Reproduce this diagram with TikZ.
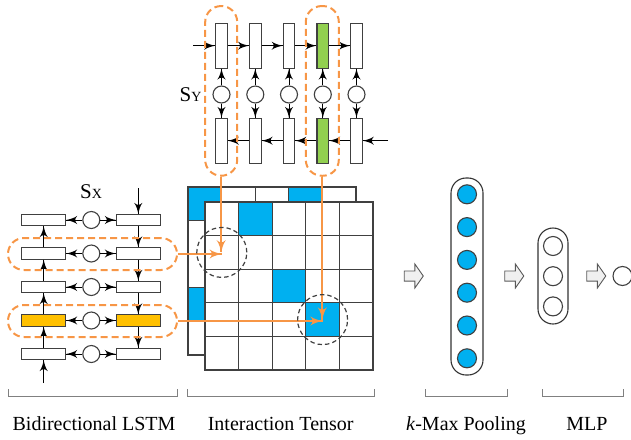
\documentclass[tikz,border=0pt]{standalone}
\usepackage{fontspec}
\setmainfont{Liberation Serif}
\usetikzlibrary{arrows}
\usetikzlibrary{decorations.markings}
\usetikzlibrary{shapes.arrows}
\definecolor{cellblue}{HTML}{00B0F0}
\definecolor{gategreen}{HTML}{92D050}
\definecolor{gateyellow}{HTML}{FFC000}
\definecolor{hlorange}{HTML}{F79646}
\definecolor{linegray}{HTML}{404040}
\tikzset{->/.style = {decoration={markings,
                                  mark=at position 1 with {\arrow[scale=1.9]{latex'}}},
                      postaction={decorate}}}
\tikzset{hlarrow/.style = {draw=hlorange, line width=1.8pt,
                           decoration={markings,
                                       mark=at position 1 with {\arrow[scale=1.5]{latex'}}},
                           postaction={decorate}}}
\tikzset{vbox/.style = {draw=linegray, line width=1.1pt, minimum width=11.6, minimum height=44.7, inner sep=0}}
\tikzset{hbox/.style = {draw=linegray, line width=1.1pt, minimum width=44, minimum height=11.3, inner sep=0}}
\tikzset{gate/.style = {draw=linegray, fill=white, line width=1.1pt, circle, minimum size=17, inner sep=0}}
\tikzset{cell/.style = {draw=linegray, fill=white, line width=1.1pt, minimum size=33.6, inner sep=0}}
\tikzset{focus/.style = {draw=linegray, line width=1.2pt, dash pattern=on 4.5pt off 3pt, circle, minimum size=50, inner sep=0}}
\tikzset{hl/.style = {draw=hlorange, line width=2pt, dash pattern=on 7pt off 4pt, rounded corners=15.9, inner sep=0}}
\tikzset{unit/.style = {draw=linegray, fill=white, line width=1.1pt, circle, minimum size=19, inner sep=0}}
\tikzset{pool/.style = {draw=black!80, line width=1.1pt, rounded corners=15, inner sep=0}}
\tikzset{flowarrow/.style = {single arrow, draw=black!65, fill=gray!12, line width=0.9pt, minimum height=19, minimum width=23,
                             single arrow head extend=6.9, single arrow tip angle=110, inner sep=4.6}}
\tikzset{caption/.style = {anchor=base, inner sep=0, font=\fontsize{20}{24}\selectfont}}

\begin{document}
\begin{tikzpicture}[x=1pt, y=-1pt, line width=1pt]
  \useasboundingbox (0,0) rectangle (631,439);

  % question side S_Y
  \foreach \i/\x/\c in {1/221.5/white, 2/255.3/white, 3/289/white, 4/322.8/gategreen, 5/356.5/white} {
    \node [vbox, fill=\c] (yt\i) at (\x, 45.7) {};
    \node [vbox, fill=\c] (yb\i) at (\x, 140.7) {};
    \node [gate] (yc\i) at (\x, 94.5) {};
    \draw [->] (yc\i) -- (yt\i);
    \draw [->] (yc\i) -- (yb\i);
  }
  \foreach \i/\j in {1/2, 2/3, 3/4, 4/5} {
    \draw [->] (yt\i) -- (yt\j);
    \draw [->] (yb\j) -- (yb\i);
  }
  \coordinate (yin) at (193, 45.7);
  \coordinate (yout) at (388, 140.7);
  \draw [->] (yin) -- (yt1);
  \draw [->] (yout) -- (yb5);
  \node (sy) at (190.5, 94.5) {\fontsize{21}{24}\selectfont S\fontsize{14}{16}\selectfont Y};

  % answer side S_X
  \foreach \i/\y/\c in {1/220/white, 2/253.5/white, 3/287/white, 4/320.5/gateyellow, 5/354/white} {
    \node [hbox, fill=\c] (xl\i) at (43.7, \y) {};
    \node [hbox, fill=\c] (xr\i) at (138.3, \y) {};
    \node [gate] (xc\i) at (91.3, \y) {};
    \draw [->] (xc\i) -- (xl\i);
    \draw [->] (xc\i) -- (xr\i);
  }
  \foreach \i/\j in {1/2, 2/3, 3/4, 4/5} {
    \draw [->] (xl\j) -- (xl\i);
    \draw [->] (xr\i) -- (xr\j);
  }
  \coordinate (xin) at (43.7, 383);
  \coordinate (xtop) at (138.3, 188);
  \draw [->] (xin) -- (xl5);
  \draw [->] (xtop) -- (xr1);
  \node (sx) at (91, 192) {\fontsize{21}{24}\selectfont S\fontsize{14}{16}\selectfont X};

  % interaction tensor
  \foreach \r in {0,...,4}
    \foreach \c in {0,...,4}
      \node [cell] (b\r\c) at (204.8+33.6*\c, 203.8+33.6*\r) {};
  \node [cell, fill=cellblue] at (b00) {};
  \node [cell, fill=cellblue] at (b03) {};
  \node [cell, fill=cellblue] at (b30) {};
  \foreach \r in {0,...,4}
    \foreach \c in {0,...,4}
      \node [cell] (f\r\c) at (221.8+33.6*\c, 218.8+33.6*\r) {};
  \node [cell, fill=cellblue] at (f01) {};
  \node [cell, fill=cellblue] at (f22) {};
  \node [cell, fill=cellblue] at (f33) {};

  % highlighted pairs
  \node [hl, minimum width=32, minimum height=169.7] (hy1) at (221.2, 90.9) {};
  \node [hl, minimum width=33, minimum height=169.7] (hy4) at (322.3, 90.9) {};
  \node [hl, minimum width=169, minimum height=32] (hx2) at (92.5, 254) {};
  \node [hl, minimum width=169, minimum height=32] (hx4) at (92.5, 321) {};
  \draw [hlarrow] (hy1.south) -- (hy1.south |- f10);
  \draw [hlarrow] (hy4.south) -- (hy4.south |- f33);
  \draw [hlarrow] (hx2.east) -- (hx2.east -| f10);
  \draw [hlarrow] (hx4.east) -- (hx4.east -| f33);
  \node [focus] (z1) at (f10) {};
  \node [focus] (z2) at (f33) {};

  % k-max pooling and MLP
  \node [flowarrow] (fa1) at (412, 276) {};
  \node [pool, minimum width=32, minimum height=197] (kmax) at (467, 276.5) {};
  \foreach \i in {0,...,5}
    \node [unit, fill=cellblue] (k\i) at (467, 194.3+32.8*\i) {};
  \node [flowarrow] (fa2) at (512.5, 276) {};
  \node [pool, minimum width=30, minimum height=96] (mlp) at (553, 276) {};
  \foreach \i in {0,...,2}
    \node [unit] (m\i) at (553, 246+30.2*\i) {};
  \node [flowarrow] (fa3) at (594.5, 276) {};
  \node [unit] (out) at (622.5, 276) {};

  % brackets and captions
  \draw [gray, line width=0.9pt] (8,389) -- (8,396) -- (177,396) -- (177,389);
  \draw [gray, line width=0.9pt] (187,389) -- (187,396) -- (374,396) -- (374,389);
  \draw [gray, line width=0.9pt] (425,389) -- (425,396) -- (507,396) -- (507,389);
  \draw [gray, line width=0.9pt] (542,389) -- (542,396) -- (623,396) -- (623,389);
  \node [caption] (c1) at (94, 430.5) {Bidirectional LSTM};
  \node [caption] (c2) at (280.7, 430.5) {Interaction Tensor};
  \node [caption] (c3) at (466, 430.5) {\textit{k}-Max Pooling};
  \node [caption] (c4) at (587, 430.5) {MLP};
\end{tikzpicture}
\end{document}
